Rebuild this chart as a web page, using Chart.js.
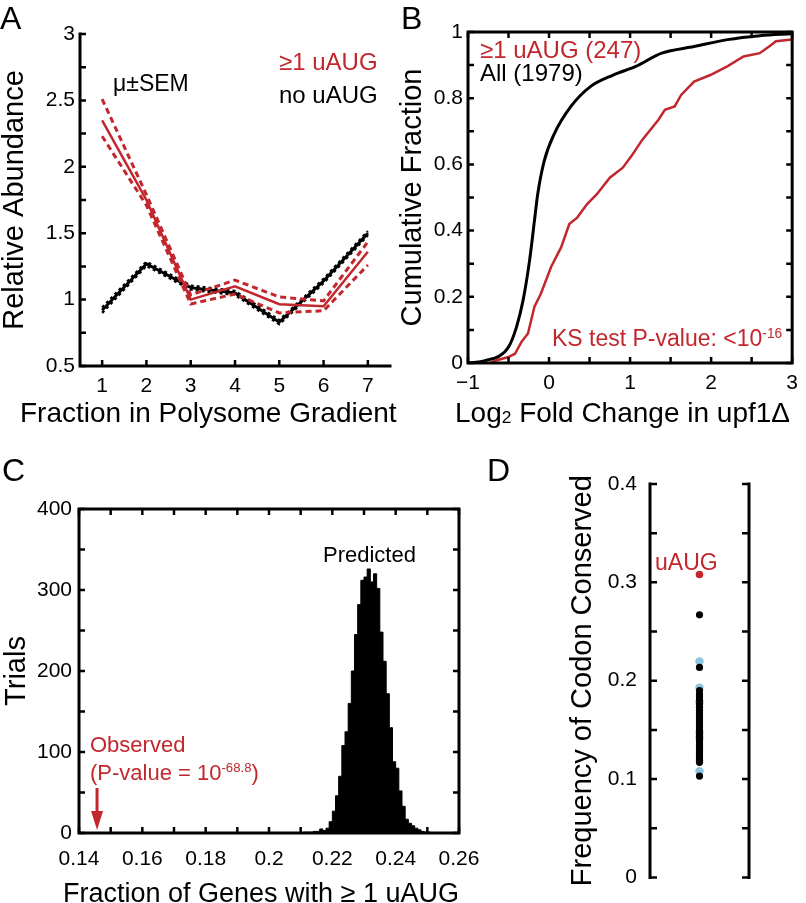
<!DOCTYPE html>
<html><head><meta charset="utf-8">
<script src="https://cdn.jsdelivr.net/npm/chart.js@4.4.1/dist/chart.umd.min.js"></script>
<style>
html,body{margin:0;padding:0;background:#fff;}
#wrap{position:relative;width:806px;height:903px;overflow:hidden;font-family:"Liberation Sans",Arial,sans-serif;color:#000;}
canvas{position:absolute;left:0;top:0;}
.t{position:absolute;line-height:1;white-space:nowrap;}
.r{color:#c1272d;}
.sup{font-size:0.6em;position:relative;top:-0.6em;}
.sub{font-size:0.62em;position:relative;top:0.05em;}
</style></head>
<body><div id="wrap">
<canvas id="cA" width="806" height="903"></canvas>
<canvas id="cB" width="806" height="903"></canvas>
<canvas id="cC" width="806" height="903"></canvas>
<canvas id="cD" width="806" height="903"></canvas>
<div class="t" style="left:0px;top:2px;font-size:32px">A</div>
<div class="t" style="left:113px;top:72px;font-size:23px">μ±SEM</div>
<div class="t r" style="left:279px;top:50px;font-size:24px">≥1 uAUG</div>
<div class="t" style="left:279px;top:83px;font-size:24px">no uAUG</div>
<div class="t" style="left:20px;top:399px;font-size:28px">Fraction in Polysome Gradient</div>
<div class="t" style="left:401px;top:2px;font-size:32px">B</div>
<div class="t r" style="left:480px;top:38px;font-size:24px">≥1 uAUG (247)</div>
<div class="t" style="left:480px;top:61px;font-size:24px">All (1979)</div>
<div class="t r" style="left:552px;top:327px;font-size:23px">KS test P-value: &lt;10<span class="sup">-16</span></div>
<div class="t" style="left:455px;top:399px;font-size:28px">Log<span class="sub">2</span> Fold Change in upf1Δ</div>
<div class="t" style="left:2px;top:454px;font-size:32px">C</div>
<div class="t" style="left:487px;top:454px;font-size:32px">D</div>
<div class="t" style="left:323px;top:544px;font-size:22px">Predicted</div>
<div class="t r" style="left:90px;top:734px;font-size:22px">Observed</div>
<div class="t r" style="left:90px;top:762px;font-size:22px">(P-value = 10<span class="sup">-68.8</span>)</div>
<div class="t" style="left:63px;top:880px;font-size:27px">Fraction of Genes with ≥ 1 uAUG</div>
<div class="t r" style="left:655px;top:551px;font-size:23px">uAUG</div>
</div>
<script>
// ---------- Panel A data ----------
const fractions = [1, 2, 3, 4, 5, 6, 7];
const noUaugMean  = [0.92, 1.27, 1.09, 1.05, 0.83, 1.14, 1.50];
const noUaugUpper = [0.94, 1.285, 1.105, 1.065, 0.845, 1.155, 1.515];
const noUaugLower = [0.90, 1.255, 1.075, 1.035, 0.815, 1.125, 1.485];
const uaugMean  = [2.35, 1.75, 1.00, 1.10, 0.965, 0.95, 1.36];
const uaugUpper = [2.51, 1.79, 1.035, 1.147, 1.02, 0.99, 1.435];
const uaugLower = [2.23, 1.71, 0.967, 1.042, 0.90, 0.916, 1.26];
const aXLabels = [1, 2, 3, 4, 5, 6, 7];
const aYLabels = [0.5, 1, 1.5, 2, 2.5, 3];
const aYMarks  = [0.5, 0.75, 1, 1.25, 1.5, 1.75, 2, 2.25, 2.5, 2.75, 3];

// ---------- Panel B data ----------
const allX = [-1.0, -0.9, -0.78, -0.62, -0.5, -0.4, -0.32, -0.24, -0.18, -0.14, -0.06, 0.06, 0.27, 0.51, 0.79, 1.07, 1.39, 1.79, 2.2, 2.6, 3.0];
const allY = [0, 0.002, 0.008, 0.02, 0.048, 0.11, 0.19, 0.31, 0.43, 0.51, 0.61, 0.69, 0.775, 0.835, 0.87, 0.896, 0.936, 0.956, 0.977, 0.989, 0.995];
const uaugX = [-0.72, -0.68, -0.5, -0.42, -0.34, -0.26, -0.18, -0.10, 0.025, 0.15, 0.25, 0.35, 0.47, 0.59, 0.75, 0.91, 1.03, 1.15, 1.35, 1.43, 1.55, 1.63, 1.79, 1.99, 2.2, 2.4, 2.6, 2.72, 2.8, 3.0];
const uaugY = [0, 0.006, 0.018, 0.028, 0.064, 0.089, 0.17, 0.21, 0.29, 0.35, 0.42, 0.44, 0.48, 0.51, 0.56, 0.59, 0.63, 0.674, 0.735, 0.765, 0.775, 0.81, 0.85, 0.87, 0.896, 0.926, 0.936, 0.957, 0.972, 0.977];
const bXLabels = [-1, 0, 1, 2, 3];
const bXMarks  = [-1, -0.5, 0, 0.5, 1, 1.5, 2, 2.5, 3];
const bYLabels = [0, 0.2, 0.4, 0.6, 0.8, 1];
const bYMarks  = [0, 0.1, 0.2, 0.3, 0.4, 0.5, 0.6, 0.7, 0.8, 0.9, 1];

// ---------- Panel C data ----------
const binCenters = [0.2105,0.2115,0.2125,0.2135,0.2145,0.2155,0.2165,0.2175,0.2185,0.2195,0.2205,0.2215,0.2225,0.2235,0.2245,0.2255,0.2265,0.2275,0.2285,0.2295,0.2305,0.2315,0.2325,0.2335,0.2345,0.2355,0.2365,0.2375,0.2385,0.2395,0.2405,0.2415,0.2425,0.2435,0.2445,0.2455,0.2465,0.2475,0.2485,0.2495,0.2505,0.2515];
const binCounts  = [0,1,1,1,2,2,5,3,6,14,27,46,70,108,125,160,200,245,282,312,316,326,310,320,302,248,212,172,130,88,80,52,33,17,12,9,6,4,2,1,1,0];
const observedFraction = 0.1457;
const cXLabels = [0.14, 0.16, 0.18, 0.2, 0.22, 0.24, 0.26];
const cXMarks  = [0.14, 0.15, 0.16, 0.17, 0.18, 0.19, 0.2, 0.21, 0.22, 0.23, 0.24, 0.25, 0.26];
const cYLabels = [0, 100, 200, 300, 400];
const cYMarks  = [0, 50, 100, 150, 200, 250, 300, 350, 400];

// ---------- Panel D data ----------
const codonBlack = [0.267, 0.2135, 0.190, 0.186, 0.183, 0.180, 0.176, 0.173, 0.170, 0.167, 0.164, 0.162, 0.160, 0.157, 0.155, 0.153, 0.151, 0.149, 0.146, 0.144, 0.141, 0.139, 0.137, 0.135, 0.133, 0.131, 0.129, 0.127, 0.125, 0.123, 0.121, 0.119, 0.117, 0.103];
const codonBlue  = [0.2195, 0.193, 0.178, 0.147, 0.142, 0.108];
const uaugFreq   = [0.308];
const dYLabels = [0, 0.1, 0.2, 0.3, 0.4];
const dYMarks  = [0, 0.05, 0.1, 0.15, 0.2, 0.25, 0.3, 0.35, 0.4];

// ---------- helpers ----------
const RED = '#c1272d', BLUE = '#8fc5dc';
const FONT = '"Liberation Sans", Arial, sans-serif';
Chart.defaults.font.family = FONT;
Chart.defaults.color = '#000';
const xy = (xs, ys) => xs.map((x, i) => ({x, y: ys[i]}));
const fmt = v => String(+(+v).toFixed(4)).replace('-', '\u2212');

const framePlugin = {
  id: 'frame',
  afterDatasetsDraw(chart, args, o) {
    const {ctx, chartArea: a, scales} = chart;
    const s = o.sides, L = o.len;
    ctx.save();
    ctx.strokeStyle = '#000';
    ctx.lineWidth = o.lw; ctx.lineCap = 'square';
    ctx.beginPath();
    if (s.includes('left'))   { ctx.moveTo(a.left, a.top);  ctx.lineTo(a.left, a.bottom); }
    if (s.includes('bottom')) { ctx.moveTo(a.left, a.bottom); ctx.lineTo(a.right, a.bottom); }
    if (s.includes('right'))  { ctx.moveTo(a.right, a.top); ctx.lineTo(a.right, a.bottom); }
    if (s.includes('top'))    { ctx.moveTo(a.left, a.top);  ctx.lineTo(a.right, a.top); }
    ctx.stroke();
    ctx.lineWidth = o.tw; ctx.lineCap = 'butt';
    ctx.beginPath();
    (o.xMarks || []).forEach(v => {
      const p = scales.x.getPixelForValue(v);
      if (s.includes('bottom')) { ctx.moveTo(p, a.bottom); ctx.lineTo(p, a.bottom - L); }
      if (s.includes('top'))    { ctx.moveTo(p, a.top);    ctx.lineTo(p, a.top + L); }
    });
    (o.yMarks || []).forEach(v => {
      const p = scales.y.getPixelForValue(v);
      if (s.includes('left'))  { ctx.moveTo(a.left, p);  ctx.lineTo(a.left + L, p); }
      if (s.includes('right')) { ctx.moveTo(a.right, p); ctx.lineTo(a.right - L, p); }
    });
    ctx.stroke();
    if (o.arrowAt !== undefined) {
      const px = scales.x.getPixelForValue(o.arrowAt);
      ctx.strokeStyle = RED; ctx.fillStyle = RED; ctx.lineWidth = 3;
      ctx.beginPath(); ctx.moveTo(px, a.bottom - 45); ctx.lineTo(px, a.bottom - 18); ctx.stroke();
      ctx.beginPath(); ctx.moveTo(px - 6, a.bottom - 22); ctx.lineTo(px + 6, a.bottom - 22); ctx.lineTo(px, a.bottom - 3); ctx.closePath(); ctx.fill();
    }
    ctx.restore();
  }
};

function axis(opts) {
  const o = {
    type: 'linear', min: opts.min, max: opts.max, display: opts.display !== false,
    grid: {display: false, drawTicks: false}, border: {display: false},
    ticks: {padding: opts.pad, font: {size: 21}, color: '#000', autoSkip: false, maxRotation: 0, callback: fmt},
    afterBuildTicks: s => { if (opts.labels) s.ticks = opts.labels.map(v => ({value: v})); },
    afterFit: s => { if (opts.w !== undefined) s.width = opts.w; if (opts.h !== undefined) s.height = opts.h; }
  };
  if (opts.title) o.title = {display: true, text: opts.title, font: {size: opts.tsize || 29}, color: '#000', padding: opts.tpad};
  return o;
}
const base = (pad, frame) => ({
  responsive: false, animation: false, devicePixelRatio: 1,
  layout: {padding: pad},
  plugins: {legend: {display: false}, tooltip: {enabled: false}, frame},
  elements: {line: {tension: 0}, point: {radius: 0}}
});

// ---------- Panel A ----------
{
  const o = base({left: 0, top: 34, right: 416, bottom: 473},
    {sides: ['left', 'bottom'], lw: 3, tw: 2.5, len: 6, xMarks: aXLabels, yMarks: aYMarks});
  o.scales = {
    x: axis({min: 0.5, max: 7.5, labels: aXLabels, pad: 8, h: 64}),
    y: axis({min: 0.5, max: 3, labels: aYLabels, pad: 5, w: 80, title: 'Relative Abundance', tpad: {top: -2, bottom: 0}})
  };
  new Chart(document.getElementById('cA'), {
    type: 'line',
    data: {datasets: [
      {data: xy(fractions, uaugUpper), borderColor: RED, borderWidth: 3, borderDash: [6, 4]},
      {data: xy(fractions, uaugLower), borderColor: RED, borderWidth: 3, borderDash: [6, 4]},
      {data: xy(fractions, uaugMean), borderColor: RED, borderWidth: 2.5},
      {data: xy(fractions, noUaugUpper), borderColor: '#000', borderWidth: 2.5, borderDash: [3, 3]},
      {data: xy(fractions, noUaugLower), borderColor: '#000', borderWidth: 2.5, borderDash: [3, 3]},
      {data: xy(fractions, noUaugMean), borderColor: '#000', borderWidth: 3}
    ]},
    options: o, plugins: [framePlugin]
  });
}

// ---------- Panel B ----------
{
  const o = base({left: 400, top: 32, right: 6, bottom: 473},
    {sides: ['left', 'bottom', 'right', 'top'], lw: 3, tw: 2.5, len: 6, xMarks: bXMarks, yMarks: bYMarks});
  o.scales = {
    x: axis({min: -1, max: 3, labels: bXLabels, pad: 8, h: 67}),
    y: axis({min: 0, max: 1, labels: bYLabels, pad: 5, w: 68, title: 'Cumulative Fraction', tpad: {top: -4, bottom: 0}})
  };
  new Chart(document.getElementById('cB'), {
    type: 'line',
    data: {datasets: [
      {data: xy(uaugX, uaugY), borderColor: RED, borderWidth: 2.5},
      {data: xy(allX, allY), borderColor: '#000', borderWidth: 3, cubicInterpolationMode: 'monotone'}
    ]},
    options: o, plugins: [framePlugin]
  });
}

// ---------- Panel C ----------
{
  const o = base({left: 0, top: 509, right: 347, bottom: 0},
    {sides: ['left', 'bottom', 'right', 'top'], lw: 3, tw: 2.5, len: 6, xMarks: cXMarks, yMarks: cYMarks, arrowAt: observedFraction});
  o.scales = {
    x: axis({min: 0.14, max: 0.26, labels: cXLabels, pad: 14, h: 70}),
    y: axis({min: 0, max: 400, labels: cYLabels, pad: 7, w: 79, title: 'Trials', tpad: {top: 0, bottom: 0}})
  };
  new Chart(document.getElementById('cC'), {
    type: 'line',
    data: {datasets: [
      {data: xy(binCenters, binCounts), borderColor: '#000', backgroundColor: '#000', borderWidth: 1, stepped: 'middle', fill: 'origin'}
    ]},
    options: o, plugins: [framePlugin]
  });
}

// ---------- Panel D ----------
{
  const o = base({left: 566, top: 484, right: 57, bottom: 20},
    {sides: ['left', 'right'], lw: 3, tw: 2.5, len: 7, yMarks: dYMarks});
  o.scales = {
    x: {type: 'linear', min: 0, max: 2, display: false},
    y: axis({min: 0, max: 0.4, labels: dYLabels, pad: 13, w: 84, title: 'Frequency of Codon Conserved', tpad: {top: 0, bottom: 0}})
  };
  const pts = arr => arr.map(v => ({x: 1, y: v}));
  new Chart(document.getElementById('cD'), {
    type: 'scatter',
    data: {datasets: [
      {data: pts(codonBlack), backgroundColor: '#000', borderWidth: 0, pointRadius: 3.6},
      {data: pts(codonBlue), backgroundColor: BLUE, borderWidth: 0, pointRadius: 4.2},
      {data: pts(uaugFreq), backgroundColor: RED, borderWidth: 0, pointRadius: 3.8}
    ]},
    options: o, plugins: [framePlugin]
  });
}
</script>
</body></html>
